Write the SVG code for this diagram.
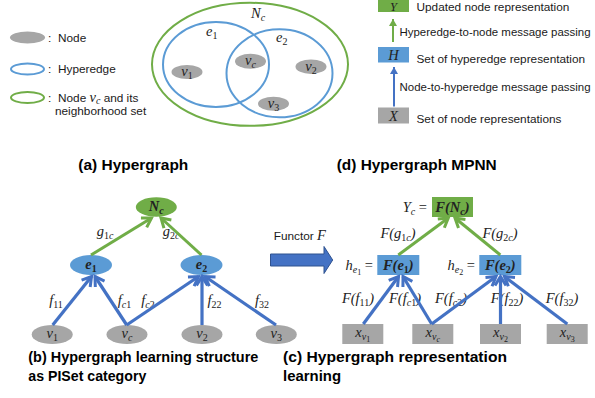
<svg xmlns="http://www.w3.org/2000/svg" width="595" height="398" viewBox="0 0 595 398">
<style>
.m{font-family:"Liberation Serif","DejaVu Serif",serif;font-style:italic;font-size:14.5px;fill:#222}
.b{font-weight:bold}
.u{font-style:normal}
.s{font-size:10px}
.ss{font-size:8px}
.lg{font-family:"Liberation Sans",Arial,sans-serif;font-size:11.8px;fill:#1a1a1a}
.t{font-family:"Liberation Sans",Arial,sans-serif;font-weight:bold;font-size:15.5px;fill:#000}
.gray{fill:#A6A6A6}
.blue{fill:#5B9BD5}
.green{fill:#70AD47}
.eb{fill:none;stroke:#5B9BD5;stroke-width:2}
.eg{fill:none;stroke:#70AD47;stroke-width:2}
.ab{stroke:#4472C4;stroke-width:3.2;fill:none;marker-end:url(#mb)}
.ag{stroke:#70AD47;stroke-width:3;fill:none;marker-end:url(#mg)}
.lb{stroke:#4472C4;stroke-width:2;fill:none;marker-end:url(#mbs)}
.lgr{stroke:#70AD47;stroke-width:2;fill:none;marker-end:url(#mgs)}
</style>
<defs>
<marker id="mb" markerUnits="userSpaceOnUse" markerWidth="14" markerHeight="14" refX="11" refY="7" orient="auto"><path d="M2,1.5 L11,7 L2,12.5" fill="none" stroke="#4472C4" stroke-width="3"/></marker>
<marker id="mg" markerUnits="userSpaceOnUse" markerWidth="14" markerHeight="14" refX="11" refY="7" orient="auto"><path d="M2,1.5 L11,7 L2,12.5" fill="none" stroke="#70AD47" stroke-width="3"/></marker>
<marker id="mbs" markerUnits="userSpaceOnUse" markerWidth="10" markerHeight="10" refX="8" refY="5" orient="auto"><path d="M1,1 L8,5 L1,9 z" fill="#4472C4"/></marker>
<marker id="mgs" markerUnits="userSpaceOnUse" markerWidth="10" markerHeight="10" refX="8" refY="5" orient="auto"><path d="M1,1 L8,5 L1,9 z" fill="#70AD47"/></marker>
</defs>

<!-- (a) legend -->
<g id="legend-a">
<ellipse cx="27.5" cy="37.5" rx="17.5" ry="6" class="gray"/>
<text x="48" y="42" class="lg">:</text><text x="58" y="42" class="lg">Node</text>
<ellipse cx="27.5" cy="69" rx="16.5" ry="5.5" class="eb"/>
<text x="48" y="73" class="lg">:</text><text x="58" y="73" class="lg">Hyperedge</text>
<ellipse cx="27.5" cy="97.5" rx="16.5" ry="5.5" class="eg"/>
<text x="48" y="101.5" class="lg">:</text><text x="58" y="101.5" class="lg">Node <tspan class="m">v</tspan><tspan class="m s" dy="2.5">c</tspan><tspan dy="-2.5"> and its</tspan></text>
<text x="55" y="115" class="lg">neighborhood set</text>
</g>

<!-- (a) hypergraph -->
<g id="hypergraph-a">
<ellipse cx="250" cy="64.3" rx="98" ry="61.5" class="eg"/>
<text x="251" y="18" class="m">N<tspan class="s" dy="3">c</tspan></text>
<ellipse cx="216" cy="64.5" rx="53" ry="42.5" class="eb"/>
<text x="206" y="36" class="m">e<tspan class="s u" dy="3">1</tspan></text>
<ellipse cx="279.5" cy="73.3" rx="53" ry="44" class="eb"/>
<text x="276" y="42" class="m">e<tspan class="s u" dy="3">2</tspan></text>
<ellipse cx="187" cy="72" rx="15.5" ry="7" class="gray"/>
<text x="187" y="76" class="m" text-anchor="middle">v<tspan class="s u" dy="3">1</tspan></text>
<ellipse cx="250.5" cy="61.3" rx="15.5" ry="7.5" class="gray"/>
<text x="250.5" y="65" class="m" text-anchor="middle">v<tspan class="s" dy="3">c</tspan></text>
<ellipse cx="311" cy="66.7" rx="15.5" ry="7.3" class="gray"/>
<text x="311" y="70.5" class="m" text-anchor="middle">v<tspan class="s u" dy="3">2</tspan></text>
<ellipse cx="273.5" cy="103.7" rx="15.5" ry="7" class="gray"/>
<text x="273.5" y="107.5" class="m" text-anchor="middle">v<tspan class="s u" dy="3">3</tspan></text>
</g>

<!-- (d) legend -->
<g id="legend-d">
<rect x="378" y="0" width="31" height="12" class="green"/>
<text x="393.5" y="10.5" class="m" text-anchor="middle" style="font-size:12.5px">Y</text>
<text x="416.5" y="11" class="lg">Updated node representation</text>
<text x="399.5" y="35.5" class="lg" textLength="191" lengthAdjust="spacingAndGlyphs">Hyperedge-to-node message passing</text>
<rect x="378" y="47" width="31" height="15.5" class="blue"/>
<text x="393.5" y="59.5" class="m" text-anchor="middle">H</text>
<text x="416.5" y="62.5" class="lg">Set of hyperedge representation</text>
<text x="399.5" y="91" class="lg" textLength="191" lengthAdjust="spacingAndGlyphs">Node-to-hyperedge message passing</text>
<rect x="378" y="107.5" width="31" height="16" class="gray"/>
<text x="393.5" y="120.5" class="m" text-anchor="middle">X</text>
<text x="416.5" y="122.5" class="lg">Set of node representations</text>
</g>

<!-- titles -->
<g id="titles">
<text x="78.3" y="170" class="t" textLength="110" lengthAdjust="spacingAndGlyphs">(a) Hypergraph</text>
<text x="336.7" y="170" class="t" textLength="160" lengthAdjust="spacingAndGlyphs">(d) Hypergraph MPNN</text>
<text x="28.3" y="362" class="t" textLength="230" lengthAdjust="spacingAndGlyphs">(b) Hypergraph learning structure</text>
<text x="28.3" y="381" class="t" textLength="118" lengthAdjust="spacingAndGlyphs">as PISet category</text>
<text x="283" y="362" class="t" textLength="224" lengthAdjust="spacingAndGlyphs">(c) Hypergraph representation</text>
<text x="283" y="381" class="t" textLength="58" lengthAdjust="spacingAndGlyphs">learning</text>
</g>

<!-- (b) nodes -->
<g id="b-Nc"><ellipse cx="156.3" cy="207" rx="20.5" ry="9.7" class="green"/><text x="156.3" y="211" class="m b" text-anchor="middle">N<tspan class="s" dy="3">c</tspan></text></g>
<g id="b-e1"><ellipse cx="91" cy="265" rx="21" ry="10" class="blue"/><text x="91" y="269" class="m b" text-anchor="middle">e<tspan class="s u" dy="3">1</tspan></text></g>
<g id="b-e2"><ellipse cx="201.5" cy="265" rx="21" ry="10" class="blue"/><text x="201.5" y="269" class="m b" text-anchor="middle">e<tspan class="s u" dy="3">2</tspan></text></g>
<g id="b-v1"><ellipse cx="52.2" cy="334.5" rx="20.5" ry="9.5" class="gray"/><text x="52.2" y="338" class="m" text-anchor="middle">v<tspan class="s u" dy="3">1</tspan></text></g>
<g id="b-vc"><ellipse cx="127" cy="334.5" rx="20.5" ry="9.5" class="gray"/><text x="127" y="338" class="m" text-anchor="middle">v<tspan class="s" dy="3">c</tspan></text></g>
<g id="b-v2"><ellipse cx="202" cy="334.5" rx="20.5" ry="9.5" class="gray"/><text x="202" y="338" class="m" text-anchor="middle">v<tspan class="s u" dy="3">2</tspan></text></g>
<g id="b-v3"><ellipse cx="276.3" cy="334.5" rx="20.5" ry="9.5" class="gray"/><text x="276.3" y="338" class="m" text-anchor="middle">v<tspan class="s u" dy="3">3</tspan></text></g>

<!-- (b) labels -->
<g id="b-labels">
<text x="105" y="236" class="m" text-anchor="middle">g<tspan class="s u" dy="3">1</tspan><tspan class="s" >c</tspan></text>
<text x="171" y="236" class="m" text-anchor="middle">g<tspan class="s u" dy="3">2</tspan><tspan class="s">c</tspan></text>
<text x="56" y="305" class="m" text-anchor="middle">f<tspan class="s u" dy="3">11</tspan></text>
<text x="124.5" y="305" class="m" text-anchor="middle">f<tspan class="s" dy="3">c</tspan><tspan class="s u">1</tspan></text>
<text x="148" y="305" class="m" text-anchor="middle">f<tspan class="s" dy="3">c</tspan><tspan class="s u">2</tspan></text>
<text x="214.5" y="305" class="m" text-anchor="middle">f<tspan class="s u" dy="3">22</tspan></text>
<text x="262" y="305" class="m" text-anchor="middle">f<tspan class="s u" dy="3">32</tspan></text>
</g>

<!-- (c) nodes -->
<g id="c-FNc"><rect x="432" y="197" width="41" height="20" class="green"/><text x="452.5" y="211.5" class="m b" text-anchor="middle">F(N<tspan class="s" dy="3">c</tspan><tspan dy="-3">)</tspan></text><text x="427" y="211.5" class="m" text-anchor="end">Y<tspan class="s" dy="3">c</tspan><tspan class="u" dy="-3"> =</tspan></text></g>
<g id="c-Fe1"><rect x="377.3" y="255" width="42" height="20" class="blue"/><text x="398.3" y="269.5" class="m b" text-anchor="middle">F(e<tspan class="s u" dy="3">1</tspan><tspan dy="-3">)</tspan></text><text x="373" y="269.5" class="m" text-anchor="end">h<tspan class="s" dy="3">e</tspan><tspan class="ss u" dy="2">1</tspan><tspan class="u" dy="-5"> =</tspan></text></g>
<g id="c-Fe2"><rect x="479.3" y="255" width="42" height="20" class="blue"/><text x="500.3" y="269.5" class="m b" text-anchor="middle">F(e<tspan class="s u" dy="3">2</tspan><tspan dy="-3">)</tspan></text><text x="475" y="269.5" class="m" text-anchor="end">h<tspan class="s" dy="3">e</tspan><tspan class="ss u" dy="2">2</tspan><tspan class="u" dy="-5"> =</tspan></text></g>
<g id="c-xv1"><rect x="342.3" y="324" width="41" height="20" class="gray"/><text x="362.8" y="337" class="m" text-anchor="middle">x<tspan class="s" dy="3">v</tspan><tspan class="ss u" dy="2">1</tspan></text></g>
<g id="c-xvc"><rect x="412.3" y="324" width="41" height="20" class="gray"/><text x="432.8" y="337" class="m" text-anchor="middle">x<tspan class="s" dy="3">v</tspan><tspan class="ss" dy="2">c</tspan></text></g>
<g id="c-xv2"><rect x="480" y="324" width="41" height="20" class="gray"/><text x="500.5" y="337" class="m" text-anchor="middle">x<tspan class="s" dy="3">v</tspan><tspan class="ss u" dy="2">2</tspan></text></g>
<g id="c-xv3"><rect x="546.7" y="324" width="41" height="20" class="gray"/><text x="567.2" y="337" class="m" text-anchor="middle">x<tspan class="s" dy="3">v</tspan><tspan class="ss u" dy="2">3</tspan></text></g>

<!-- (c) labels -->
<g id="c-labels">
<text x="398" y="238" class="m" text-anchor="middle">F(g<tspan class="s u" dy="3">1</tspan><tspan class="s">c</tspan><tspan dy="-3">)</tspan></text>
<text x="500" y="238" class="m" text-anchor="middle">F(g<tspan class="s u" dy="3">2</tspan><tspan class="s">c</tspan><tspan dy="-3">)</tspan></text>
<text x="358" y="303" class="m" text-anchor="middle">F(f<tspan class="s u" dy="3">11</tspan><tspan dy="-3">)</tspan></text>
<text x="405" y="303" class="m" text-anchor="middle">F(f<tspan class="s" dy="3">c</tspan><tspan class="s u">1</tspan><tspan dy="-3">)</tspan></text>
<text x="451" y="303" class="m" text-anchor="middle">F(f<tspan class="s" dy="3">c</tspan><tspan class="s u">2</tspan><tspan dy="-3">)</tspan></text>
<text x="507" y="303" class="m" text-anchor="middle">F(f<tspan class="s u" dy="3">22</tspan><tspan dy="-3">)</tspan></text>
<text x="562" y="303" class="m" text-anchor="middle">F(f<tspan class="s u" dy="3">32</tspan><tspan dy="-3">)</tspan></text>
</g>

<!-- functor -->
<g id="functor">
<text x="273.7" y="240" class="lg">Functor <tspan class="m">F</tspan></text>
<path d="M270.5,254 L324,254 L324,246.5 L332.7,260 L324,273.5 L324,266 L270.5,266 Z" fill="#4472C4" stroke="#2F528F" stroke-width="1"/>
</g>

<!-- connectors -->
<g id="connectors">
<line x1="393" y1="42" x2="393" y2="19" class="lgr"/>
<line x1="394" y1="106.5" x2="394" y2="67" class="lb"/>

<line x1="91" y1="255" x2="151.5" y2="218" class="ag"/>
<line x1="201.5" y1="255" x2="161" y2="218" class="ag"/>
<line x1="52.7" y1="325" x2="91.5" y2="276.5" class="ab"/>
<line x1="126.7" y1="325" x2="95" y2="276.5" class="ab"/>
<line x1="126.7" y1="325" x2="198.5" y2="276.5" class="ab"/>
<line x1="202" y1="325" x2="202" y2="276.5" class="ab"/>
<line x1="276" y1="325" x2="205" y2="276.5" class="ab"/>

<line x1="398.3" y1="255" x2="448.3" y2="218" class="ag"/>
<line x1="500.3" y1="255" x2="455" y2="218" class="ag"/>
<line x1="363.3" y1="324" x2="398.5" y2="276.5" class="ab"/>
<line x1="431.7" y1="324" x2="403" y2="276.5" class="ab"/>
<line x1="431.7" y1="324" x2="496" y2="276.5" class="ab"/>
<line x1="500.5" y1="324" x2="500.5" y2="276.5" class="ab"/>
<line x1="567.3" y1="324" x2="504.5" y2="276.5" class="ab"/>
</g>
</svg>
